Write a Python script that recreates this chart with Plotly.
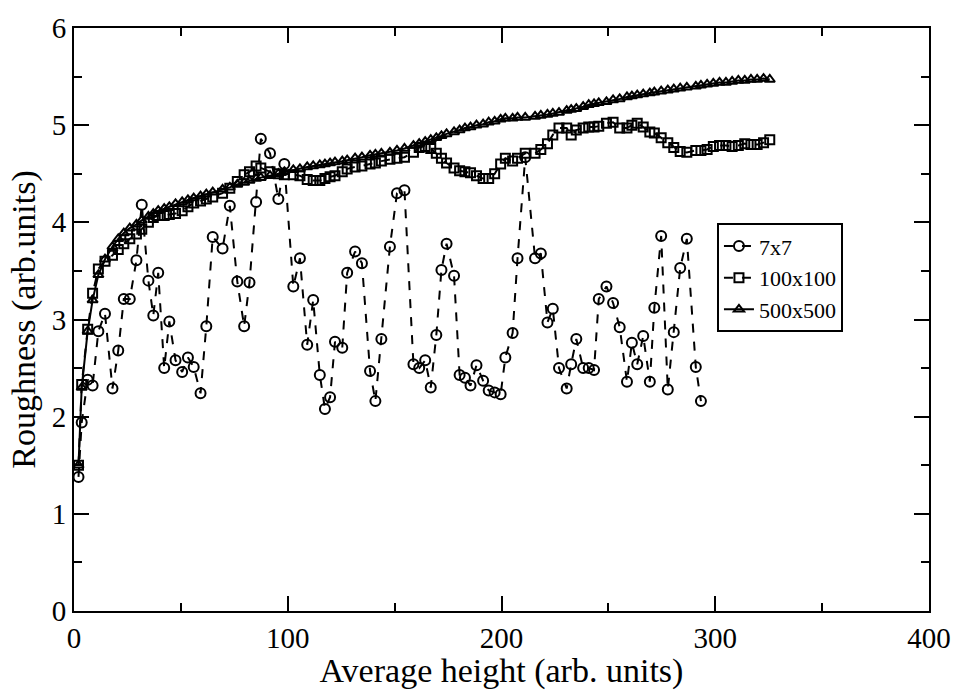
import plotly.graph_objects as go

# Shared average-height sample positions
heights = [2.1, 3.6, 6.4, 8.7, 11.4, 14.5, 18.0, 20.7, 23.3, 26.1, 29.2, 31.7, 34.8, 37.1, 39.4,
           42.2, 44.6, 47.5, 50.6, 53.3, 56.0, 59.2, 61.9, 64.9, 69.5, 72.9, 76.4, 79.6, 82.1, 85.2,
           87.4, 91.7, 95.6, 98.4, 102.6, 105.7, 109.1, 111.9, 115.0, 117.4, 119.8, 122.1, 125.5,
           127.8, 131.5, 134.7, 138.5, 141.0, 143.8, 147.8, 151.1, 154.6, 158.8, 161.5, 164.3,
           166.9, 169.5, 171.9, 174.3, 177.8, 180.4, 182.9, 185.5, 188.3, 191.4, 194.0, 196.8,
           199.6, 201.8, 205.2, 207.5, 211.1, 215.7, 218.4, 221.5, 224.0, 226.9, 230.5, 232.6,
           235.0, 238.2, 240.8, 243.3, 245.5, 249.1, 252.2, 255.3, 258.7, 261.0, 263.5, 266.3,
           269.4, 271.5, 274.7, 277.8, 280.6, 283.6, 286.7, 290.9, 293.3, 296.2, 299.1, 302.0,
           305.0, 307.9, 310.8, 313.8, 316.7, 319.6, 322.6, 325.5]

rough_7 = [1.38, 1.94, 2.38, 2.32, 2.88, 3.06, 2.29, 2.68, 3.21, 3.21, 3.61, 4.18, 3.40, 3.04, 3.48,
           2.50, 2.98, 2.58, 2.46, 2.61, 2.51, 2.24, 2.93, 3.85, 3.73, 4.17, 3.39, 2.93, 3.38, 4.21,
           4.86, 4.71, 4.24, 4.60, 3.34, 3.63, 2.74, 3.20, 2.43, 2.08, 2.20, 2.77, 2.71, 3.48, 3.70,
           3.58, 2.47, 2.16, 2.80, 3.75, 4.30, 4.33, 2.54, 2.50, 2.58, 2.30, 2.84, 3.51, 3.78, 3.45,
           2.43, 2.40, 2.32, 2.53, 2.37, 2.27, 2.25, 2.23, 2.61, 2.86, 3.63, 4.67, 3.63, 3.68, 2.97,
           3.11, 2.50, 2.29, 2.54, 2.80, 2.50, 2.50, 2.48, 3.21, 3.34, 3.17, 2.92, 2.36, 2.76, 2.54,
           2.83, 2.36, 3.12, 3.86, 2.28, 2.87, 3.53, 3.83, 2.51, 2.16]

rough_100 = [1.50, 2.33, 2.90, 3.27, 3.52, 3.60, 3.66, 3.72, 3.78, 3.83, 3.88, 3.93, 4.00, 4.05, 4.07,
             4.07, 4.08, 4.09, 4.12, 4.16, 4.20, 4.22, 4.24, 4.26, 4.30, 4.35, 4.42, 4.49, 4.52, 4.58,
             4.56, 4.52, 4.50, 4.49, 4.49, 4.48, 4.44, 4.43, 4.43, 4.45, 4.47, 4.48, 4.52, 4.55, 4.57,
             4.58, 4.60, 4.61, 4.63, 4.65, 4.66, 4.67, 4.72, 4.77, 4.78, 4.76, 4.71, 4.66, 4.61, 4.56,
             4.53, 4.52, 4.51, 4.48, 4.45, 4.45, 4.50, 4.60, 4.66, 4.63, 4.66, 4.71, 4.71, 4.75, 4.81,
             4.90, 4.97, 4.97, 4.90, 4.95, 4.97, 4.98, 4.98, 4.99, 5.02, 5.03, 4.97, 4.97, 5.00, 5.02,
             4.98, 4.93, 4.92, 4.87, 4.82, 4.77, 4.73, 4.72, 4.74, 4.74, 4.75, 4.78, 4.79, 4.79, 4.78,
             4.79, 4.81, 4.80, 4.80, 4.82, 4.85]

rough_500 = [1.50, 2.30, 2.88, 3.20, 3.46, 3.62, 3.75, 3.83, 3.89, 3.94, 3.98, 4.02, 4.06, 4.09, 4.12,
             4.14, 4.16, 4.19, 4.21, 4.23, 4.25, 4.27, 4.29, 4.31, 4.34, 4.36, 4.39, 4.41, 4.43, 4.45,
             4.46, 4.48, 4.50, 4.52, 4.54, 4.55, 4.57, 4.58, 4.59, 4.60, 4.61, 4.62, 4.63, 4.64, 4.66,
             4.67, 4.69, 4.70, 4.71, 4.72, 4.74, 4.76, 4.79, 4.81, 4.83, 4.85, 4.87, 4.89, 4.91, 4.93,
             4.95, 4.97, 4.98, 5.00, 5.01, 5.03, 5.04, 5.06, 5.07, 5.07, 5.08, 5.08, 5.09, 5.10, 5.11,
             5.12, 5.13, 5.15, 5.16, 5.17, 5.19, 5.21, 5.22, 5.23, 5.24, 5.26, 5.27, 5.29, 5.30, 5.31,
             5.32, 5.33, 5.34, 5.35, 5.36, 5.37, 5.38, 5.39, 5.40, 5.41, 5.42, 5.43, 5.44, 5.44, 5.45,
             5.46, 5.46, 5.47, 5.47, 5.48, 5.47]

series_names = ["7x7", "100x100", "500x500"]

FONT = "Liberation Serif"

fig = go.Figure()
fig.add_trace(go.Scatter(
    x=heights[:len(rough_7)], y=rough_7, name=series_names[0], mode="lines+markers",
    line=dict(color="black", width=2, dash="dash"),
    marker=dict(symbol="circle-open", size=10, color="black", line=dict(width=2, color="black"))))
fig.add_trace(go.Scatter(
    x=heights[:len(rough_100)], y=rough_100, name=series_names[1], mode="lines+markers",
    line=dict(color="black", width=2, dash="dash"),
    marker=dict(symbol="square-open", size=9, color="black", line=dict(width=2, color="black"))))
fig.add_trace(go.Scatter(
    x=heights[:len(rough_500)], y=rough_500, name=series_names[2], mode="lines+markers",
    line=dict(color="black", width=2),
    marker=dict(symbol="triangle-up-open", size=9, color="black", line=dict(width=2, color="black"))))

axis_common = dict(
    showline=True, linecolor="black", linewidth=2, mirror="ticks",
    ticks="inside", ticklen=15, tickwidth=2, tickcolor="black",
    showgrid=False, zeroline=False, ticklabeloverflow="allow",
    tickfont=dict(family=FONT, size=29, color="black"),
    title_font=dict(family=FONT, size=34, color="black"),
)

fig.update_xaxes(range=[0, 400], dtick=100,
                 minor=dict(ticks="inside", ticklen=8, tickwidth=2, tickcolor="black", dtick=50),
                 title_text="Average height (arb. units)", title_standoff=0, **axis_common)
fig.update_yaxes(range=[0, 6], dtick=1,
                 minor=dict(ticks="inside", ticklen=8, tickwidth=2, tickcolor="black", dtick=0.5),
                 title_text="Roughness (arb.units)", title_standoff=6, **axis_common)

fig.update_layout(
    width=963, height=690,
    margin=dict(l=74, r=29, t=14, b=75),
    paper_bgcolor="white", plot_bgcolor="white",
    font=dict(family=FONT, color="black"),
    legend=dict(x=0.752, y=0.665, xanchor="left", yanchor="top",
                bordercolor="black", borderwidth=2, bgcolor="white",
                font=dict(family=FONT, size=22, color="black"),
                tracegroupgap=0, itemwidth=30),
)

fig.write_html("out.html")
